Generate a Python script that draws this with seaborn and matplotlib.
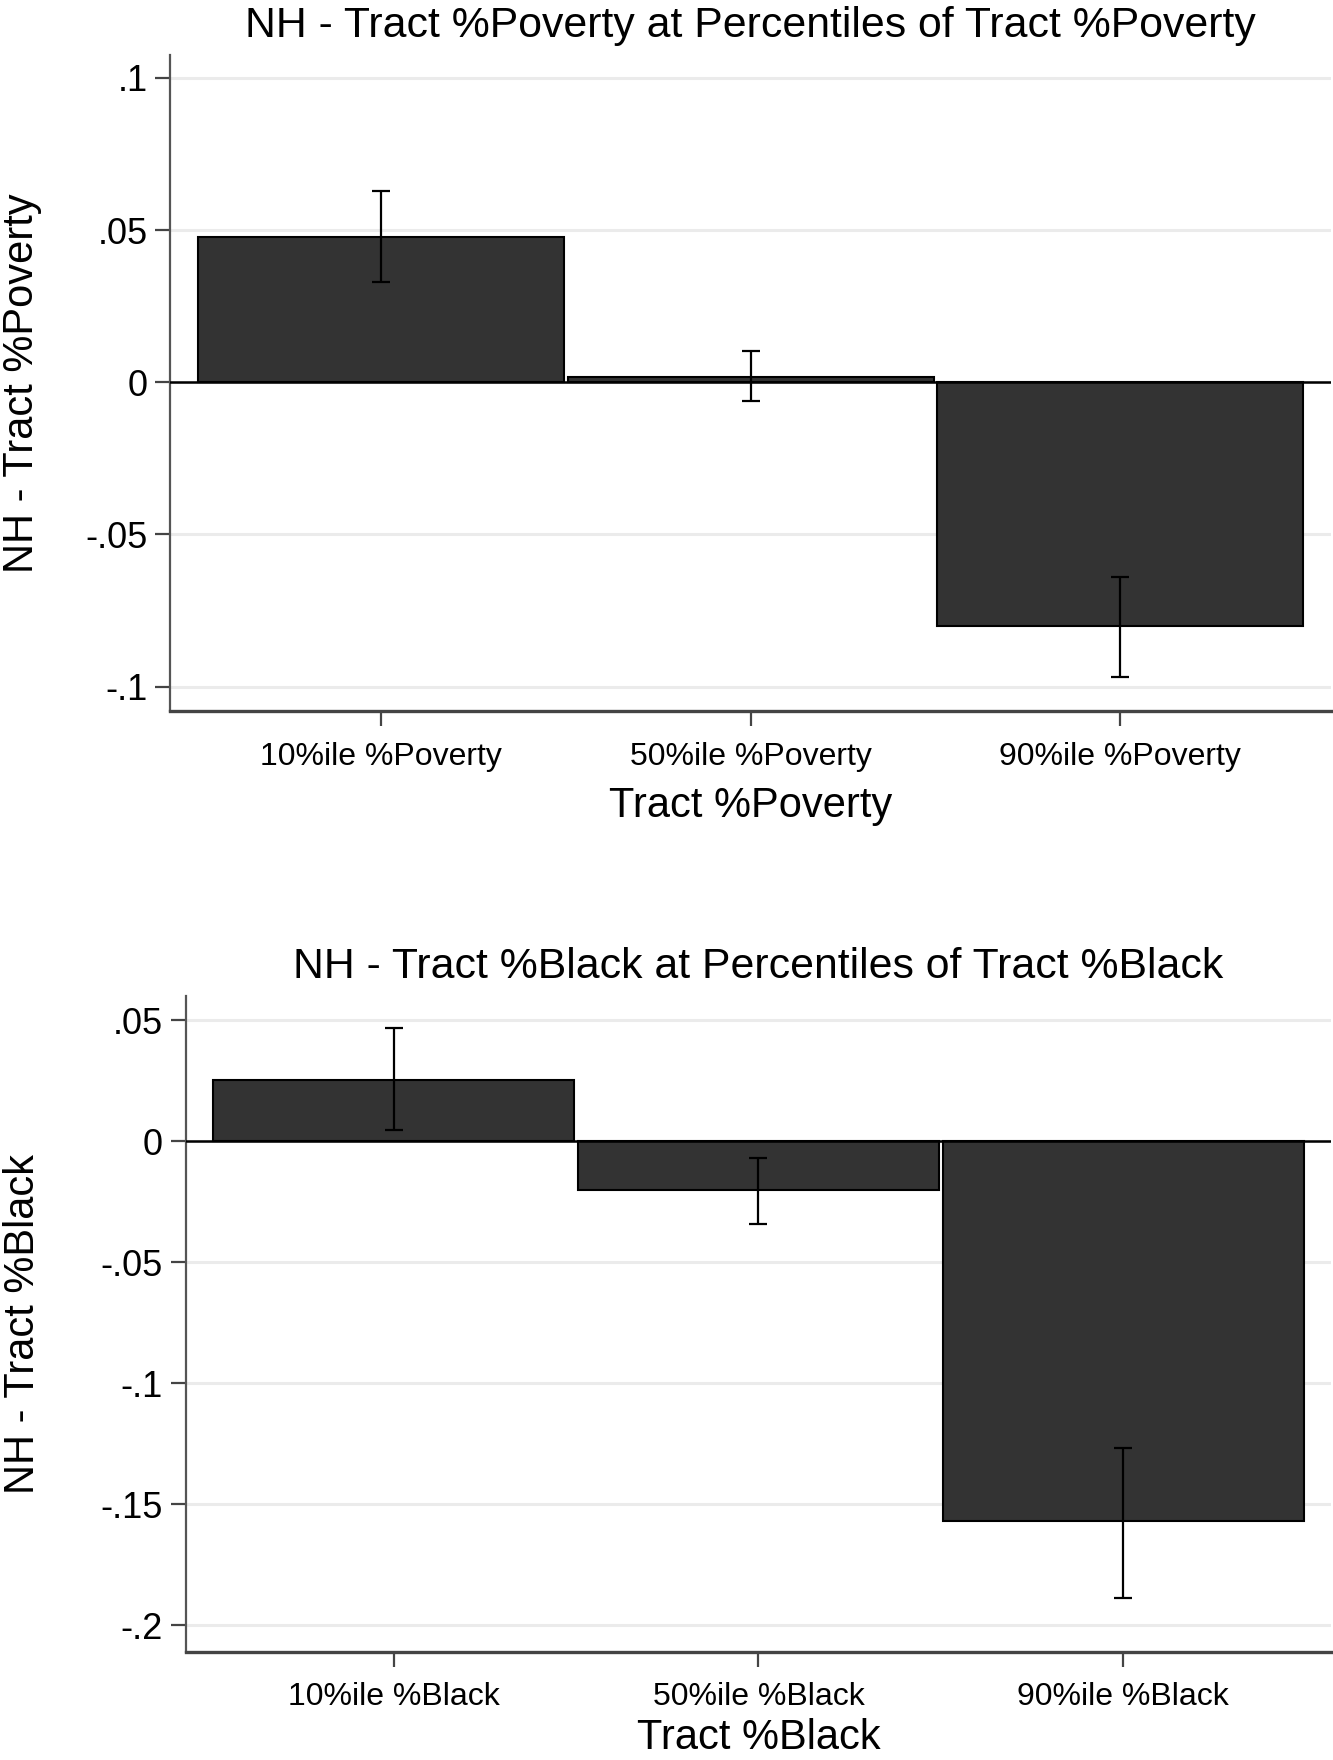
import pandas as pd
import matplotlib
matplotlib.use("Agg")
import matplotlib.pyplot as plt
import seaborn as sns

# -----------------------
# Data
# -----------------------
pov_labels = ["10%ile %Poverty", "50%ile %Poverty", "90%ile %Poverty"]
pov_est = [0.0476, 0.0016, -0.0802]
pov_lo = [0.0330, -0.0061, -0.0969]
pov_hi = [0.0628, 0.0104, -0.0638]

blk_labels = ["10%ile %Black", "50%ile %Black", "90%ile %Black"]
blk_est = [0.0252, -0.0202, -0.1569]
blk_lo = [0.0045, -0.0343, -0.1887]
blk_hi = [0.0466, -0.0071, -0.1267]

pov_ticks = [-0.1, -0.05, 0, 0.05, 0.1]
pov_ticklabels = ["-.1", "-.05", "0", ".05", ".1"]
blk_ticks = [-0.2, -0.15, -0.1, -0.05, 0, 0.05]
blk_ticklabels = ["-.2", "-.15", "-.1", "-.05", "0", ".05"]

# -----------------------
# Style
# -----------------------
sns.set_style("white")
plt.rcParams['font.family'] = ['Liberation Sans', 'DejaVu Sans']
plt.rcParams['text.color'] = 'black'
plt.rcParams['axes.labelcolor'] = 'black'

fig = plt.figure(figsize=(13.33, 17.6), dpi=100)
ax1 = fig.add_axes([0.1279, 0.5960, 0.8706, 0.3727])
ax2 = fig.add_axes([0.1395, 0.0614, 0.8590, 0.3727])


def draw_panel(ax, labels, est, lo, hi, ticks, ticklabels, ylim,
               title, xlabel, ylabel, ylab_x, title_pad, xlab_pad):
    df = pd.DataFrame({"cat": labels, "est": est, "lo": lo, "hi": hi})
    sns.barplot(data=df, x="cat", y="est", color="#333333", saturation=1,
                width=0.99, edgecolor="black", linewidth=1.5,
                errorbar=None, ax=ax, zorder=2)

    # confidence intervals
    xs = list(range(len(df)))
    yerr = [df["est"] - df["lo"], df["hi"] - df["est"]]
    ax.errorbar(xs, df["est"], yerr=yerr, fmt="none", ecolor="black",
                elinewidth=1.6, capsize=6.5, capthick=1.6, zorder=4)

    ax.axhline(0, color="black", lw=1.8, zorder=3)

    ax.set_xlim(-0.57, 2.57)
    ax.set_ylim(*ylim)
    ax.set_yticks(ticks)
    ax.set_yticklabels(ticklabels)

    ax.yaxis.grid(True, color="#ebebeb", lw=2.2)
    ax.xaxis.grid(False)
    ax.set_axisbelow(True)

    for side in ["top", "right"]:
        ax.spines[side].set_visible(False)
    ax.spines["left"].set_color("#555555")
    ax.spines["left"].set_linewidth(1.6)
    ax.spines["bottom"].set_color("#444444")
    ax.spines["bottom"].set_linewidth(2.4)

    ax.tick_params(axis="y", left=True, direction="out", length=10.5,
                   width=1.6, color="#444444", pad=6, labelsize=26,
                   labelcolor="black")
    ax.tick_params(axis="x", bottom=True, direction="out", length=11,
                   width=1.6, color="#444444", pad=11, labelsize=23,
                   labelcolor="black")

    ax.set_title(title, fontsize=30.8, pad=title_pad, color="black")
    ax.set_xlabel(xlabel, fontsize=30, labelpad=xlab_pad)
    ax.set_ylabel(ylabel, fontsize=30)
    ax.yaxis.set_label_coords(ylab_x, 0.5)


draw_panel(ax1, pov_labels, pov_est, pov_lo, pov_hi, pov_ticks,
           pov_ticklabels, (-0.108, 0.1075),
           "NH - Tract %Poverty at Percentiles of Tract %Poverty",
           "Tract %Poverty", "NH - Tract %Poverty", -0.111, 13, 10.5)

draw_panel(ax2, blk_labels, blk_est, blk_lo, blk_hi, blk_ticks,
           blk_ticklabels, (-0.211, 0.06),
           "NH - Tract %Black at Percentiles of Tract %Black",
           "Tract %Black", "NH - Tract %Black", -0.125, 13, 4)

fig.savefig("out.png", dpi=100)
